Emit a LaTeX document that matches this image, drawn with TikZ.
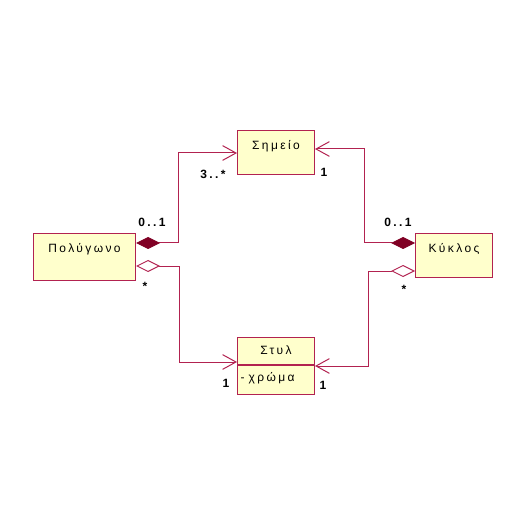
\documentclass[tikz,border=0pt]{standalone}
\usepackage{fontspec}
\newfontfamily\umlfont[LetterSpace=20]{Liberation Sans}
\usetikzlibrary{arrows.meta}
\definecolor{umlline}{RGB}{178,34,80}
\definecolor{umlfill}{RGB}{255,255,204}
\definecolor{umldiam}{RGB}{128,0,36}

\tikzset{every picture/.style={line width=0.75pt}}
\tikzset{
  classbox/.style={draw=umlline,fill=umlfill,anchor=north west,inner sep=0pt,
    minimum width=57.75pt,text height=14pt,text depth=19pt,font=\umlfont\fontsize{9}{10}\selectfont},
  mult/.style={inner sep=0.75pt,font=\umlfont\fontsize{9}{10}\selectfont\bfseries},
  link/.style={draw=umlline},
  comp/.style={link,{Diamond[length=18pt,width=9pt,fill=umldiam,color=umldiam]}-{Straight Barb[length=10pt,width=11pt]}},
  aggr/.style={link,{Diamond[length=18pt,width=9pt,open,fill=white]}-{Straight Barb[length=10pt,width=11pt]}}
}

\begin{document}
\begin{tikzpicture}[x=0.75pt,y=0.75pt,yscale=-1,xscale=1]
\useasboundingbox (0,0) rectangle (530,530);

% Classes
\node [classbox,minimum width=76.5pt,text depth=21pt] (poly) at (33,233) {Πολύγωνο};
\node [classbox] (shm) at (237,130) {Σημείο};
\node [classbox] (kyk) at (415,233) {Κύκλος};
\node [classbox,text height=13pt,text depth=7.25pt] (sty) at (237,337) {Στυλ};
\node [classbox,anchor=north,text height=12pt,text depth=9.75pt,align=left,text width=53pt] (styattr) at (sty.south) {- χρώμα};

% Associations
\draw [comp] (poly.east |- 0,243) -| (178,153) -- (shm.west |- 0,153);
\draw [aggr] (poly.east |- 0,266) -| (179,362) -- (sty.west |- 0,362);
\draw [comp] (kyk.west |- 0,243) -| (364,149) -- (shm.east |- 0,149);
\draw [aggr] (kyk.west |- 0,271) -| (368,366) -- (styattr.east |- 0,366);

% Multiplicities
\node [mult] (m1) at (213,174) {3..*};
\node [mult] (m2) at (324,172) {1};
\node [mult] (m3) at (152,222) {0..1};
\node [mult] (m4) at (398,222) {0..1};
\node [mult] (m5) at (145,286) {*};
\node [mult] (m6) at (404,289) {*};
\node [mult] (m7) at (226,383) {1};
\node [mult] (m8) at (323,385) {1};

\end{tikzpicture}
\end{document}
